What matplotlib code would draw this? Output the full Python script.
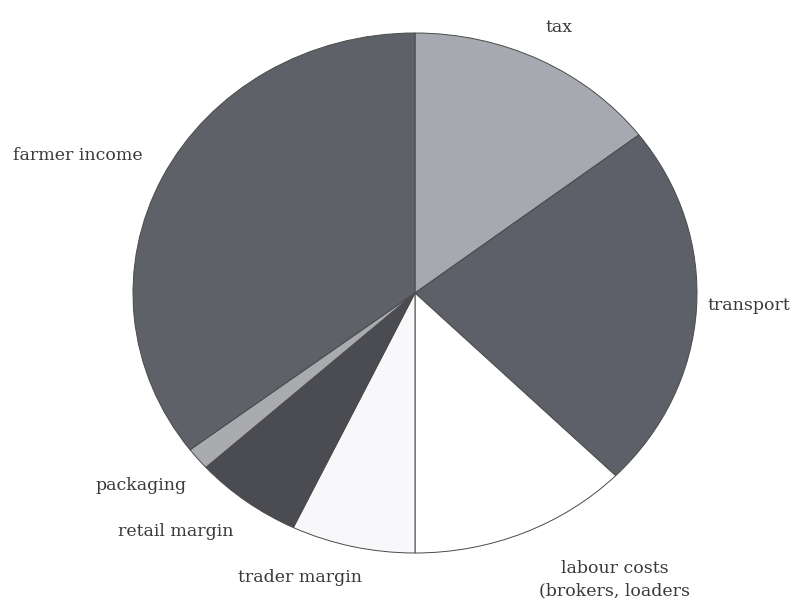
import matplotlib
matplotlib.use("Agg")
import matplotlib.pyplot as plt

# cost breakdown, clockwise from 12 o'clock (percent)
categories = ["tax", "transport", "labour costs\n(brokers, loaders", "trader margin",
              "retail margin", "packaging", "farmer income"]
shares = [14.6, 22.8, 12.6, 7.1, 6.2, 1.4, 35.3]
colors = ["#a6a9af", "#5d6068", "#ffffff", "#f8f8fa", "#4a4c52", "#aaabae", "#5e6168"]

# label spots in pixels of the 793x601 picture (left x, y centre)
label_pos = [(545, 28), (708, 305), (539, 580), (238, 578), (118, 532), (95, 485), (13, 155)]

W, H = 793, 601
fig = plt.figure(figsize=(W / 100, H / 100), dpi=100)
fig.patch.set_facecolor("white")

cx, cy, rx, ry = 415, 293, 282, 260
ax = fig.add_axes([(cx - rx) / W, (H - cy - ry) / H, 2 * rx / W, 2 * ry / H])
ax.pie(shares, colors=colors, startangle=90, counterclock=False, radius=1,
       wedgeprops=dict(edgecolor="#4a4a4a", linewidth=0.7))
ax.set_aspect("auto")
ax.set_xlim(-1, 1)
ax.set_ylim(-1, 1)
ax.axis("off")

for name, (px, py) in zip(categories, label_pos):
    fig.text(px / W, 1 - py / H, name, ha="left", va="center", fontsize=12.5,
             family="DejaVu Serif", color="#3a3a3a", linespacing=1.4,
             multialignment="center")

fig.savefig("out.png", dpi=100)
